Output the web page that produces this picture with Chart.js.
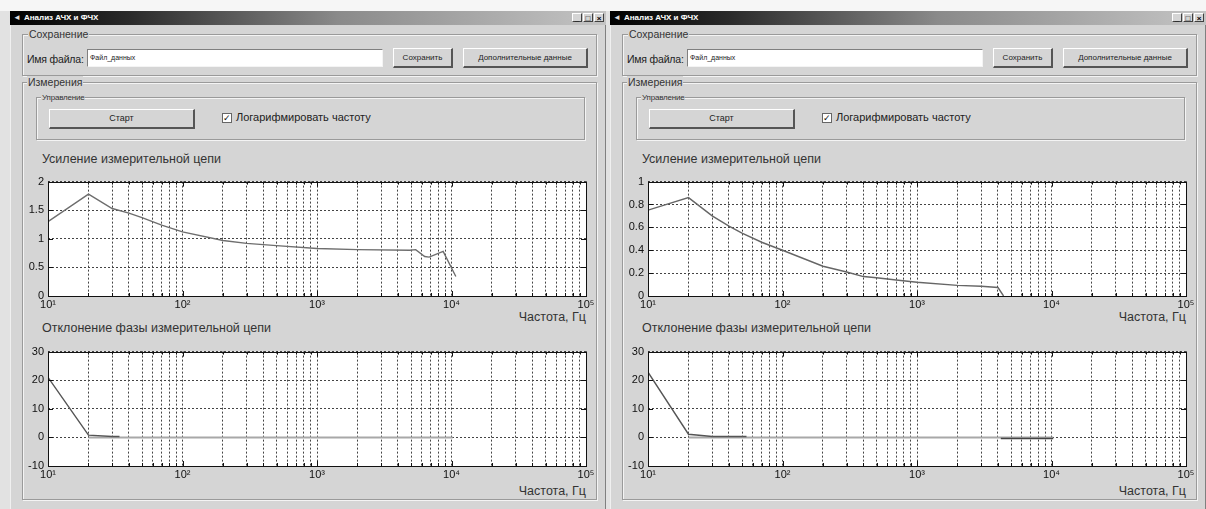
<!DOCTYPE html>
<html lang="ru">
<head>
<meta charset="utf-8">
<title>Анализ АЧХ и ФЧХ</title>
<script src="https://cdn.jsdelivr.net/npm/chart.js@4/dist/chart.umd.min.js"></script>
<style>
  html, body { margin: 0; padding: 0; }
  body {
    width: 1206px; height: 509px; overflow: hidden; position: relative;
    background: #f6f6f6;
    font-family: 'Liberation Sans', Arial, sans-serif;
  }
  .fondo { position: absolute; left: 0; top: 11px; width: 1206px; height: 498px; background: #e2e2e2; }
  .okno {
    position: absolute; top: 11px; width: 596px; height: 498px;
    background: #d5d5d5;
    box-shadow: inset 1px 1px 0 #f0f0f0, inset -1px 0 0 #808080;
  }
  .zagolovok {
    position: absolute; left: 0; top: 0; width: 596px; height: 14px;
    background: linear-gradient(to right, #000 0%, #2a2a2a 20%, #8a8a8a 55%, #c4c4c4 100%);
    color: #fff; font: bold 8px 'Liberation Sans', Arial, sans-serif; line-height: 14px;
  }
  .zagolovok span { position: absolute; left: 14px; }
  .zagolovok .ikonka { position: absolute; left: 3px; top: 3px; width: 8px; height: 8px; color: #ddd; font-size: 8px; line-height: 8px; }
  .knopki-okna { position: absolute; right: 2px; top: 2px; display: flex; gap: 1px; }
  .knopki-okna div {
    width: 10px; height: 9px; background: #d5d5d5; color: #000;
    font: bold 8px 'Liberation Sans', Arial, sans-serif; line-height: 9px; text-align: center;
    border-top: 1px solid #fff; border-left: 1px solid #fff;
    border-right: 1px solid #404040; border-bottom: 1px solid #404040;
    box-sizing: border-box;
  }
  .ramka {
    position: absolute; box-sizing: border-box;
    border: 1px solid #9a9a9a;
    box-shadow: inset 1px 1px 0 #f4f4f4, 1px 1px 0 #f4f4f4;
  }
  .legenda {
    position: absolute; background: #d5d5d5; padding: 0 1px;
    font-size: 11px; color: #333; line-height: 12px;
  }
  .tekst { position: absolute; color: #222; white-space: nowrap; }
  .pole {
    position: absolute; background: #fff; box-sizing: border-box;
    border-top: 1px solid #808080; border-left: 1px solid #808080;
    border-right: 1px solid #f4f4f4; border-bottom: 1px solid #f4f4f4;
    font-size: 7px; line-height: 16px; padding-left: 2px; color: #222;
  }
  .knopka {
    position: absolute; background: #d5d5d5; box-sizing: border-box;
    border-top: 1px solid #fff; border-left: 1px solid #fff;
    border-right: 2px solid #555; border-bottom: 2px solid #555;
    font-size: 8px; color: #222; text-align: center;
  }
  .flag {
    position: absolute; width: 10px; height: 10px; background: #fff; box-sizing: border-box;
    border: 1px solid #666; font-size: 9px; line-height: 8px; text-align: center; color: #111;
  }
  canvas.grafik { position: absolute; }
</style>
</head>
<body>
<div class="fondo"></div>
<script>
// ── Данные ─────────────────────────────────────
const decadeTicks  = [10, 100, 1000, 10000, 100000]
const decadeLabels = ['10¹', '10²', '10³', '10⁴', '10⁵']
const phaseTicks   = [-10, 0, 10, 20, 30]

// Окно 1 (левое)
const gainTicks1 = [0, 0.5, 1, 1.5, 2]
const gainFreq1  = [10, 20, 30, 40, 50, 70, 100, 200, 300, 500, 1000, 2000, 4900, 5420, 6320, 6820, 8670, 10770]
const gainVal1   = [1.30, 1.78, 1.53, 1.45, 1.37, 1.24, 1.12, 0.97, 0.92, 0.88, 0.83, 0.81, 0.80, 0.81, 0.69, 0.68, 0.78, 0.34]
const phaseFreq1 = [10, 20, 30, 34]
const phaseVal1  = [21, 0.8, 0.3, 0.3]
const zeroFreq1  = [20, 10200]
const zeroVal1   = [0, 0]

// Окно 2 (правое)
const gainTicks2 = [0, 0.2, 0.4, 0.6, 0.8, 1]
const gainFreq2  = [10, 20, 30, 40, 50, 70, 100, 200, 300, 400, 500, 700, 1000, 2000, 3000, 4000, 4400]
const gainVal2   = [0.75, 0.86, 0.70, 0.61, 0.55, 0.47, 0.40, 0.26, 0.21, 0.17, 0.16, 0.14, 0.12, 0.093, 0.085, 0.074, 0.0]
const phaseFreq2 = [10, 20, 30, 54]
const phaseVal2  = [22.8, 1.1, 0.3, 0.3]
const zeroFreq2  = [20, 10300]
const zeroVal2   = [0, 0]
const tailFreq2  = [4200, 10300]
const tailVal2   = [-0.4, -0.4]

// ── Вспомогательное ────────────────────────────
const pary = (xs, ys) => xs.map((x, i) => ({ x, y: ys[i] }))

// все деления 1..9 × 10^n из декад
const minorTicks = []
decadeTicks.forEach((d, i) => {
  if (i === decadeTicks.length - 1) { minorTicks.push(d); return }
  for (let k = 1; k <= 9; k++) minorTicks.push(d * k)
})

// рамка осей и внутренние засечки как в MATLAB
const ramkaMatlab = {
  id: 'ramkaMatlab',
  beforeDraw(chart) {
    const a = chart.chartArea, ctx = chart.ctx
    ctx.save()
    ctx.fillStyle = '#fff'
    ctx.fillRect(a.left, a.top, a.right - a.left, a.bottom - a.top)
    ctx.restore()
  },
  afterDraw(chart) {
    const a = chart.chartArea, ctx = chart.ctx
    const sx = chart.scales.x, sy = chart.scales.y
    ctx.save()
    ctx.strokeStyle = '#111'
    ctx.lineWidth = 1
    ctx.beginPath()
    sx.ticks.forEach(t => {
      const px = Math.round(sx.getPixelForValue(t.value)) + 0.5
      const len = decadeTicks.includes(t.value) ? 5 : 3
      ctx.moveTo(px, a.bottom); ctx.lineTo(px, a.bottom - len)
      ctx.moveTo(px, a.top);    ctx.lineTo(px, a.top + len)
    })
    sy.ticks.forEach(t => {
      const py = Math.round(sy.getPixelForValue(t.value)) + 0.5
      ctx.moveTo(a.left, py);  ctx.lineTo(a.left + 5, py)
      ctx.moveTo(a.right, py); ctx.lineTo(a.right - 5, py)
    })
    ctx.stroke()
    ctx.strokeRect(Math.round(a.left) + 0.5, Math.round(a.top) + 0.5,
                   Math.round(a.right - a.left), Math.round(a.bottom - a.top))
    ctx.restore()
  }
}

function construirGrafico(canvas, datasets, yTicks) {
  const tickFont = { family: "'Liberation Sans', Arial, sans-serif", size: 11 }
  return new Chart(canvas.getContext('2d'), {
    type: 'line',
    data: { datasets },
    options: {
      responsive: false,
      animation: false,
      layout: { padding: { left: 0, right: 14, top: 7, bottom: 0 } },
      plugins: { legend: { display: false }, tooltip: { enabled: false } },
      elements: { point: { radius: 0 }, line: { tension: 0 } },
      scales: {
        x: {
          type: 'logarithmic',
          min: decadeTicks[0],
          max: decadeTicks[decadeTicks.length - 1],
          afterBuildTicks: s => { s.ticks = minorTicks.map(v => ({ value: v })) },
          afterFit: s => { s.height = 16 },
          ticks: {
            autoSkip: false, maxRotation: 0, padding: 2,
            color: '#111', font: tickFont,
            callback: v => {
              const i = decadeTicks.indexOf(v)
              return i >= 0 ? decadeLabels[i] : ''
            }
          },
          grid: { color: '#444', lineWidth: 1, drawTicks: false },
          border: { display: false, dash: [2, 2] }
        },
        y: {
          type: 'linear',
          min: yTicks[0],
          max: yTicks[yTicks.length - 1],
          afterBuildTicks: s => { s.ticks = yTicks.map(v => ({ value: v })) },
          afterFit: s => { s.width = 32 },
          ticks: {
            padding: 4, color: '#111', font: tickFont,
            callback: v => String(v)
          },
          grid: { color: '#444', lineWidth: 1, drawTicks: false },
          border: { display: false, dash: [2, 2] }
        }
      }
    },
    plugins: [ramkaMatlab]
  })
}

const linea = (xs, ys, color, width) => ({
  data: pary(xs, ys), borderColor: color, borderWidth: width,
  pointRadius: 0, fill: false
})

// ── Окна ───────────────────────────────────────
const ventanas = [
  {
    left: 10,
    gain: [linea(gainFreq1, gainVal1, '#6e6e6e', 1.4)],
    gainTicks: gainTicks1,
    phase: [
      linea(phaseFreq1, phaseVal1, '#555', 1.4),
      linea(zeroFreq1, zeroVal1, '#a8a8a8', 2)
    ]
  },
  {
    left: 610,
    gain: [linea(gainFreq2, gainVal2, '#666', 1.4)],
    gainTicks: gainTicks2,
    phase: [
      linea(phaseFreq2, phaseVal2, '#555', 1.4),
      linea(tailFreq2, tailVal2, '#444', 1.4),
      linea(zeroFreq2, zeroVal2, '#a8a8a8', 2)
    ]
  }
]

function el(padre, cls, css, texto) {
  const d = document.createElement('div')
  d.className = cls
  Object.assign(d.style, css)
  if (texto !== undefined) d.textContent = texto
  padre.appendChild(d)
  return d
}

ventanas.forEach(v => {
  const w = el(document.body, 'okno', { left: v.left + 'px' })

  // заголовок окна
  const z = el(w, 'zagolovok', {})
  el(z, 'ikonka', {}, '◄')
  const s = document.createElement('span'); s.textContent = 'Анализ АЧХ и ФЧХ'; z.appendChild(s)
  const kb = el(z, 'knopki-okna', {})
  el(kb, '', {}, '_'); el(kb, '', {}, '□'); el(kb, '', {}, '×')

  // Сохранение
  el(w, 'ramka', { left: '12px', top: '23px', width: '575px', height: '42px' })
  el(w, 'legenda', { left: '18px', top: '17px', fontSize: '10.5px' }, 'Сохранение')
  el(w, 'tekst', { left: '17px', top: '42px', fontSize: '10.5px', letterSpacing: '-0.2px' }, 'Имя файла:')
  el(w, 'pole', { left: '77px', top: '38px', width: '296px', height: '18px' }, 'Файл_данных')
  el(w, 'knopka', { left: '383px', top: '37px', width: '60px', height: '20px', lineHeight: '17px' }, 'Сохранить')
  el(w, 'knopka', { left: '453px', top: '37px', width: '125px', height: '20px', lineHeight: '17px' }, 'Дополнительные данные')

  // Измерения
  el(w, 'ramka', { left: '12px', top: '71px', width: '575px', height: '418px' })
  el(w, 'legenda', { left: '17px', top: '65px', fontSize: '10.5px' }, 'Измерения')
  el(w, 'ramka', { left: '26px', top: '86px', width: '549px', height: '43px' })
  el(w, 'legenda', { left: '31px', top: '81px', fontSize: '8px', letterSpacing: '-0.2px' }, 'Управление')
  el(w, 'knopka', { left: '39px', top: '98px', width: '146px', height: '20px', lineHeight: '17px', fontSize: '9px' }, 'Старт')
  el(w, 'flag', { left: '212px', top: '102px' }, '✓')
  el(w, 'tekst', { left: '226px', top: '100px', fontSize: '11px' }, 'Логарифмировать частоту')

  // графики
  el(w, 'tekst', { left: '32px', top: '141px', fontSize: '12.5px', color: '#333' }, 'Усиление измерительной цепи')
  el(w, 'tekst', { left: '32px', top: '310px', fontSize: '12.5px', color: '#333' }, 'Отклонение фазы измерительной цепи')
  el(w, 'tekst', { right: '20px', top: '299px', fontSize: '12.5px', color: '#333' }, 'Частота, Гц')
  el(w, 'tekst', { right: '20px', top: '473px', fontSize: '12.5px', color: '#333' }, 'Частота, Гц')

  const c1 = document.createElement('canvas')
  c1.className = 'grafik'; c1.width = 584; c1.height = 141
  Object.assign(c1.style, { left: '6px', top: '160px' })
  w.appendChild(c1)
  const c2 = document.createElement('canvas')
  c2.className = 'grafik'; c2.width = 584; c2.height = 141
  Object.assign(c2.style, { left: '6px', top: '330px' })
  w.appendChild(c2)

  construirGrafico(c1, v.gain, v.gainTicks)
  construirGrafico(c2, v.phase, phaseTicks)
})
</script>
</body>
</html>
